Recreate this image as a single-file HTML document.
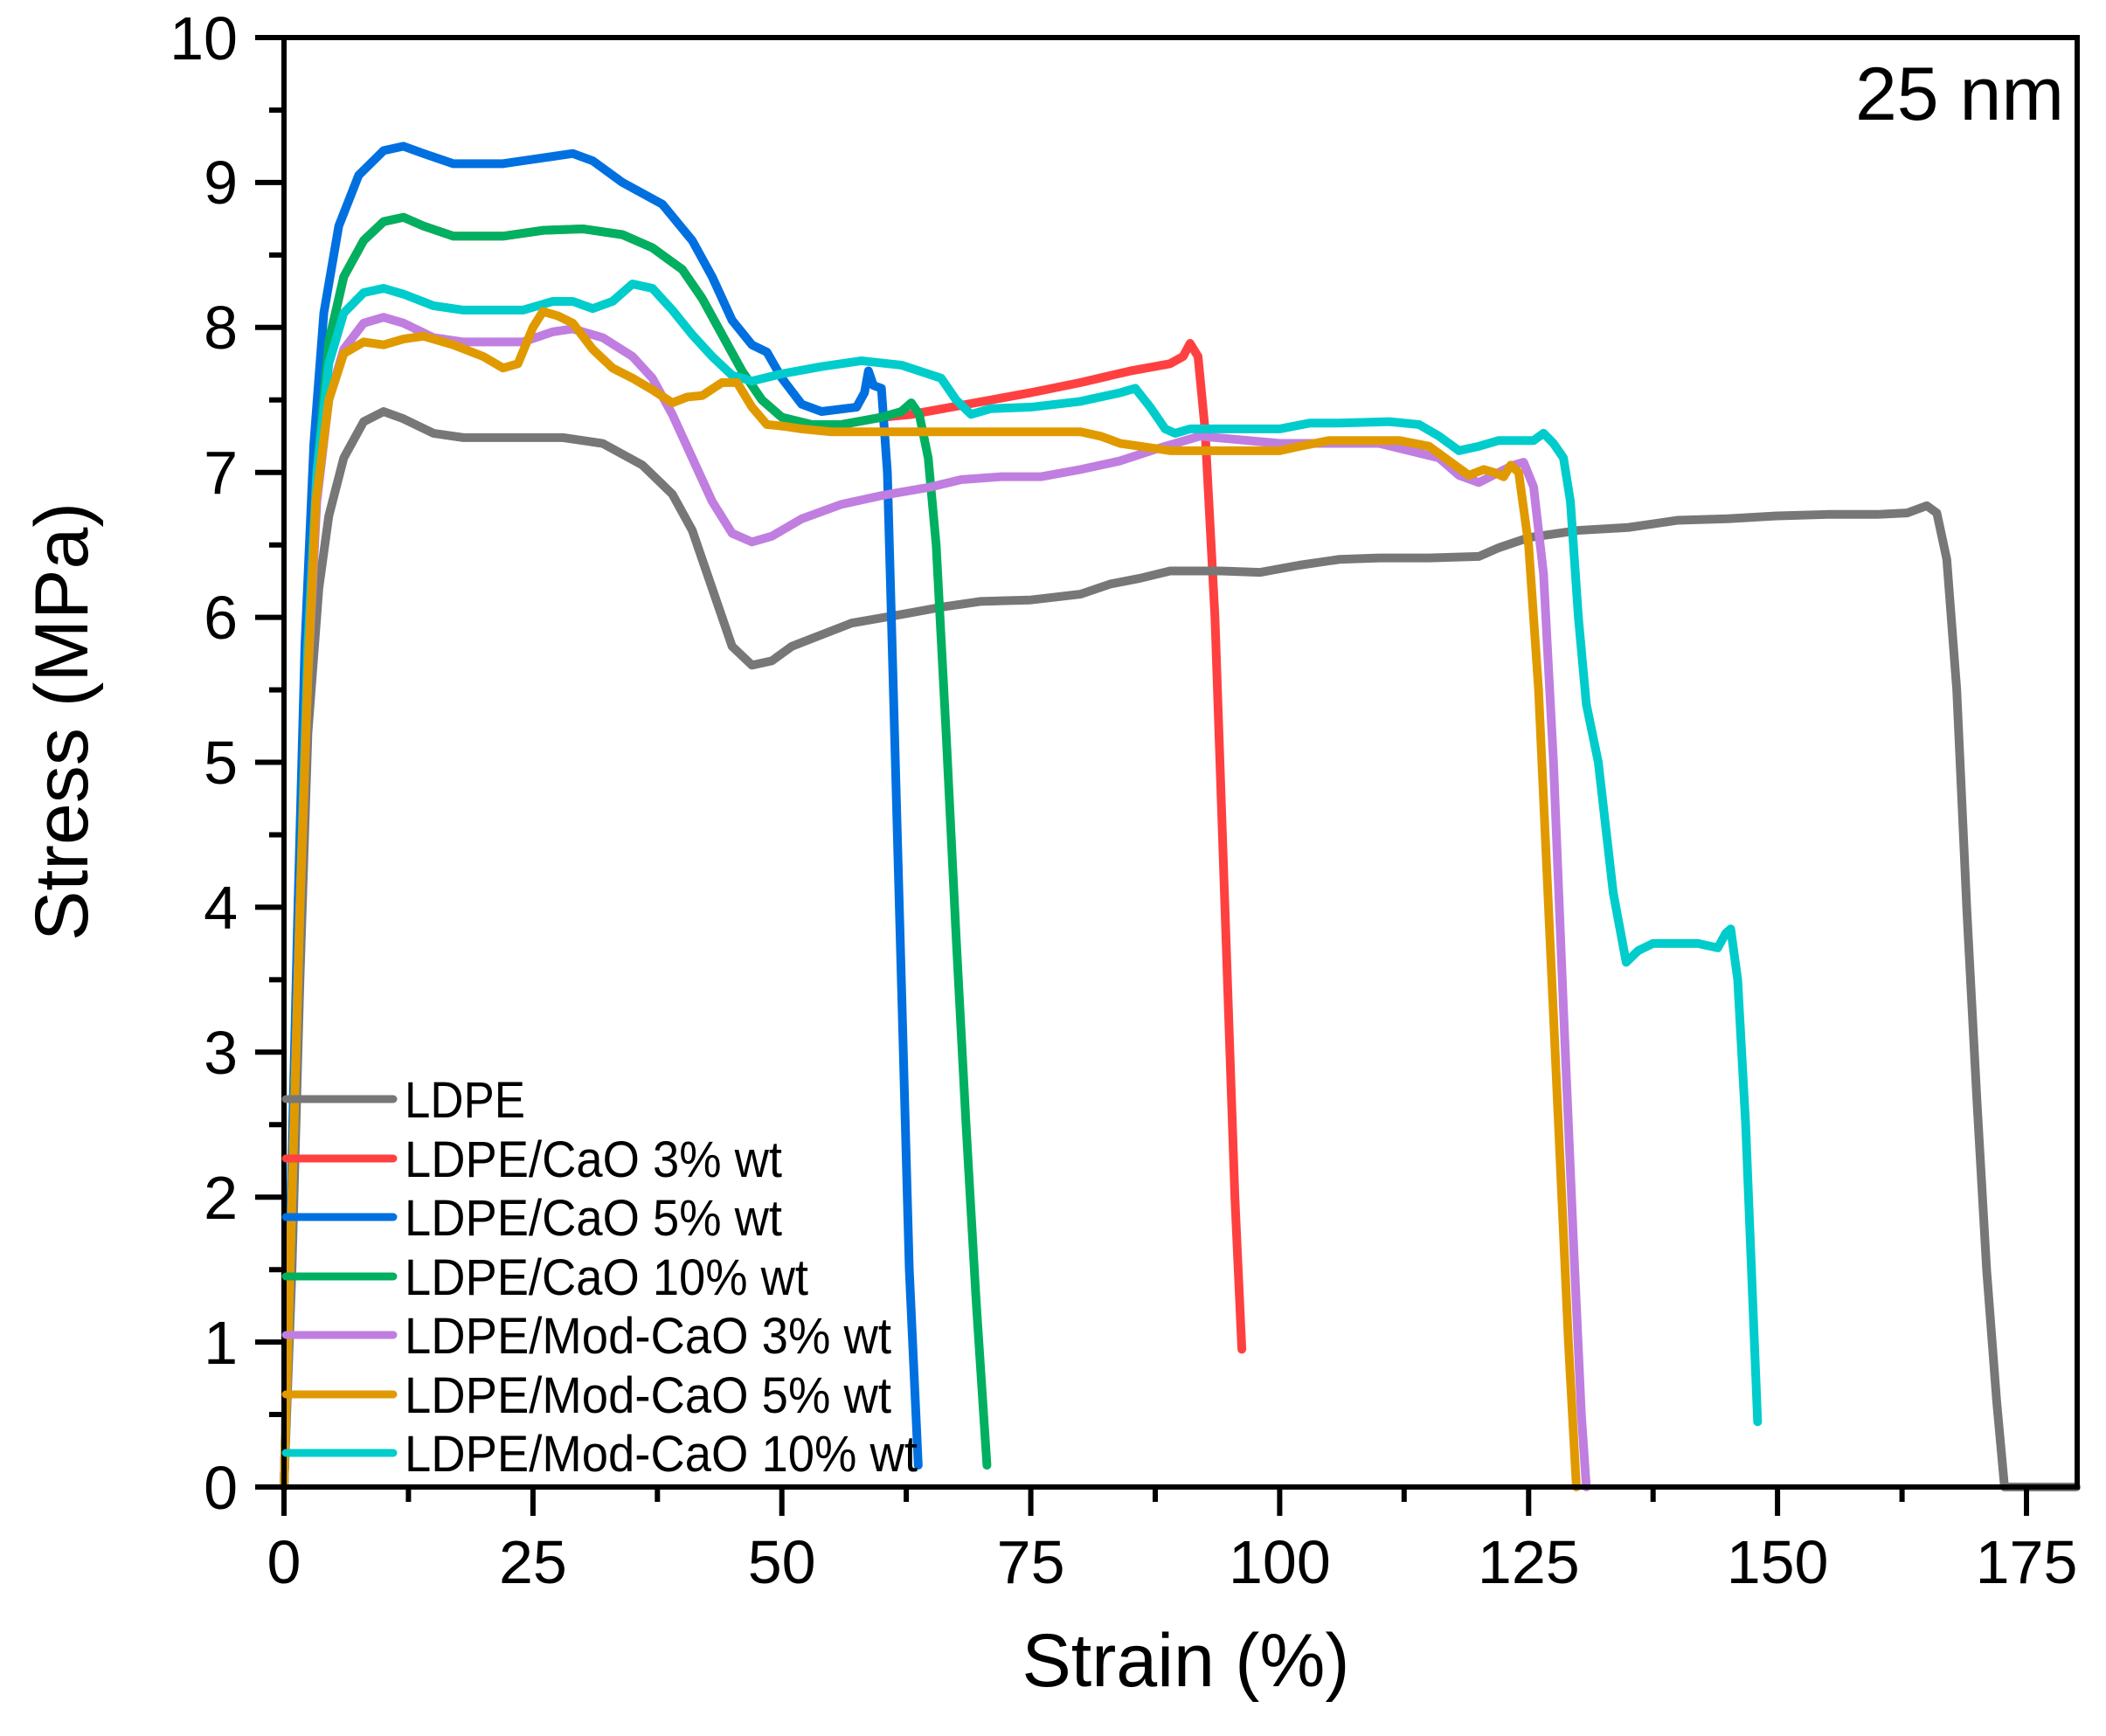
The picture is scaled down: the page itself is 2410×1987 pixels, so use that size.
<!DOCTYPE html>
<html><head><meta charset="utf-8"><style>html,body{margin:0;padding:0;background:#fff}svg{display:block}</style></head>
<body>
<svg width="2410" height="1987" viewBox="0 0 2410 1987" xmlns="http://www.w3.org/2000/svg" font-family="Liberation Sans, Arial, sans-serif">
<rect width="2410" height="1987" fill="#fff"/>
<g transform="translate(325,1702) scale(11.394,-165.9)" fill="none" stroke-width="10" stroke-linejoin="round" stroke-linecap="round">
<polyline vector-effect="non-scaling-stroke" stroke="#ff4040" points="0,0 0.8,2 1.6,4 2.4,5.8 3.3,7 4.5,7.9 6,8.35 8,8.6 10,8.73 12,8.76 14,8.7 17,8.63 22,8.63 26,8.67 30,8.68 34,8.64 37,8.55 40,8.4 42,8.2 44,7.95 46,7.7 48,7.5 50,7.38 53,7.33 56,7.33 60,7.38 63,7.4 67,7.45 75,7.55 80,7.62 85,7.7 89,7.75 90.3,7.8 91,7.89 91.8,7.8 92.5,7.3 93.5,6 94.5,4 95.5,2 96.2,0.95"/>
<polyline vector-effect="non-scaling-stroke" stroke="#777777" points="0,0 0.8,1.5 1.6,3.5 2.4,5.2 3.5,6.2 4.5,6.7 6,7.1 8,7.35 10,7.42 12,7.37 15,7.27 18,7.24 22,7.24 28,7.24 32,7.2 36,7.05 39,6.85 41,6.6 43,6.2 45,5.8 47,5.67 49,5.7 51,5.8 54,5.88 57,5.96 62,6.02 66,6.07 70,6.11 75,6.12 80,6.16 83,6.23 86,6.27 89,6.32 94,6.32 98,6.31 102,6.36 106,6.4 110,6.41 115,6.41 120,6.42 122,6.48 125,6.55 130,6.6 135,6.62 140,6.67 145,6.68 150,6.7 155,6.71 160,6.71 163,6.72 165,6.77 166,6.72 167,6.4 168,5.5 169,4 170,2.7 171,1.5 172,0.6 172.8,0 180,0"/>
<polyline vector-effect="non-scaling-stroke" stroke="#0070e0" points="0,0 0.7,2 1.4,4 2.1,5.8 3,7.2 4,8.1 5.5,8.7 7.5,9.05 10,9.22 12,9.25 14,9.2 17,9.13 22,9.13 26,9.17 29,9.2 31,9.15 34,9 38,8.85 41,8.6 43,8.35 45,8.05 47,7.88 48.5,7.83 50,7.65 52,7.47 54,7.42 57.5,7.45 58.3,7.55 58.7,7.7 59.2,7.6 60,7.58 60.6,7 61.2,5.5 62,3.5 62.8,1.5 63.7,0.15"/>
<polyline vector-effect="non-scaling-stroke" stroke="#00b060" points="0,0 0.8,2 1.6,4 2.4,5.8 3.3,7 4.5,7.9 6,8.35 8,8.6 10,8.73 12,8.76 14,8.7 17,8.63 22,8.63 26,8.67 30,8.68 34,8.64 37,8.55 40,8.4 42,8.2 44,7.95 46,7.7 48,7.5 50,7.38 53,7.33 56,7.33 60,7.38 62,7.42 63,7.48 63.8,7.4 64.7,7.1 65.5,6.5 66.5,5.2 67.5,3.8 68.5,2.5 69.5,1.3 70.6,0.15"/>
<polyline vector-effect="non-scaling-stroke" stroke="#c07ee0" points="0,0 0.8,2 1.6,4 2.4,5.6 3.3,6.8 4.5,7.5 6,7.85 8,8.03 10,8.07 12,8.03 15,7.93 18,7.9 24,7.9 27,7.97 29,7.99 32,7.93 35,7.8 37,7.65 39,7.4 41,7.1 43,6.8 45,6.58 47,6.52 49,6.56 52,6.68 56,6.78 60,6.84 65,6.9 68,6.95 72,6.97 76,6.97 80,7.02 84,7.08 88,7.17 92,7.25 100,7.2 110,7.2 116,7.1 118,6.98 120,6.93 122,7 123.5,7.05 124.5,7.07 125.5,6.9 126.5,6.3 127.5,5 128.5,3.3 129.5,1.7 130.3,0.5 130.8,0"/>
<polyline vector-effect="non-scaling-stroke" stroke="#00cccc" points="0,0 0.8,2 1.6,4 2.4,5.8 3.3,7 4.5,7.75 6,8.1 8,8.24 10,8.27 12,8.23 15,8.15 18,8.12 24,8.12 27,8.18 29,8.18 31,8.13 33,8.18 35,8.3 37,8.27 39,8.12 41,7.95 43,7.8 45,7.67 47,7.63 50,7.68 54,7.73 58,7.77 62,7.74 66,7.65 67.5,7.5 69,7.4 71,7.44 75,7.45 80,7.49 84,7.55 85.5,7.58 87,7.45 88.5,7.3 89.5,7.27 91,7.3 96,7.3 100,7.3 103,7.34 106,7.34 111,7.35 114,7.33 116,7.25 118,7.15 120,7.18 122,7.22 124.5,7.22 125.5,7.22 126.5,7.27 127.5,7.2 128.5,7.1 129.2,6.8 130,6 130.8,5.4 132,5 133.5,4.1 134.8,3.62 136,3.7 137.5,3.75 142,3.75 144,3.72 144.8,3.82 145.3,3.85 146,3.5 146.8,2.5 147.5,1.3 148,0.45"/>
<polyline vector-effect="non-scaling-stroke" stroke="#e09a00" points="0,0 0.8,2 1.6,4 2.4,5.6 3.2,6.8 4.5,7.5 6,7.82 8,7.9 10,7.88 12,7.92 14,7.94 17,7.88 20,7.8 22,7.72 23.5,7.75 25,8.0 26,8.11 27.5,8.08 29,8.03 31,7.85 33,7.72 35,7.65 37,7.57 39,7.48 40.5,7.52 42,7.53 44,7.62 45.5,7.62 47,7.45 48.5,7.33 50,7.32 52,7.3 55,7.28 60,7.28 70,7.28 80,7.28 82,7.25 84,7.2 86,7.18 89,7.15 95,7.15 100,7.15 102,7.18 105,7.22 112,7.22 115,7.18 117,7.08 119,6.98 120.5,7.02 121.5,7.0 122.5,6.97 123.2,7.05 124,7.0 125,6.5 126,5.5 127,4 128,2.5 129,1 129.8,0"/>
</g>
<g stroke="#000" stroke-width="6" fill="none">
<rect x="325" y="43" width="2052" height="1659"/>
<path d="M325,1702v33 M609.9,1702v33 M894.7,1702v33 M1179.6,1702v33 M1464.4,1702v33 M1749.3,1702v33 M2034.1,1702v33 M2319,1702v33 M467.4,1702v17 M752.3,1702v17 M1037.1,1702v17 M1322,1702v17 M1606.8,1702v17 M1891.7,1702v17 M2176.6,1702v17"/>
<path d="M325,1702h-33 M325,1536.1h-33 M325,1370.2h-33 M325,1204.3h-33 M325,1038.4h-33 M325,872.5h-33 M325,706.6h-33 M325,540.7h-33 M325,374.8h-33 M325,208.9h-33 M325,43h-33 M325,1619h-17 M325,1453.2h-17 M325,1287.3h-17 M325,1121.4h-17 M325,955.5h-17 M325,789.6h-17 M325,623.7h-17 M325,457.8h-17 M325,291.9h-17 M325,126h-17"/>
</g>
<g font-size="70" fill="#000" text-anchor="middle">
<text x="325" y="1812">0</text><text x="609.9" y="1812">25</text><text x="894.7" y="1812">50</text><text x="1179.6" y="1812">75</text><text x="1464.4" y="1812">100</text><text x="1749.3" y="1812">125</text><text x="2034.1" y="1812">150</text><text x="2319" y="1812">175</text>
</g>
<g font-size="70" fill="#000" text-anchor="end">
<text x="272" y="1727">0</text><text x="272" y="1561">1</text><text x="272" y="1395">2</text><text x="272" y="1229">3</text><text x="272" y="1063">4</text><text x="272" y="897">5</text><text x="272" y="731">6</text><text x="272" y="565">7</text><text x="272" y="399">8</text><text x="272" y="233">9</text><text x="272" y="68">10</text>
</g>
<text x="2362" y="137" font-size="86" text-anchor="end">25 nm</text>
<text x="1357" y="1930" font-size="86" text-anchor="middle" textLength="375" lengthAdjust="spacingAndGlyphs">Strain (%)</text>
<text transform="translate(100,826) rotate(-90)" font-size="86" text-anchor="middle" textLength="502" lengthAdjust="spacingAndGlyphs">Stress (MPa)</text>
<g stroke-width="9" stroke-linecap="round">
<line x1="327" y1="1258" x2="450" y2="1258" stroke="#777777"/>
<line x1="327" y1="1326" x2="450" y2="1326" stroke="#ff4040"/>
<line x1="327" y1="1393" x2="450" y2="1393" stroke="#0070e0"/>
<line x1="327" y1="1461" x2="450" y2="1461" stroke="#00b060"/>
<line x1="327" y1="1528" x2="450" y2="1528" stroke="#c07ee0"/>
<line x1="327" y1="1596" x2="450" y2="1596" stroke="#e09a00"/>
<line x1="327" y1="1663" x2="450" y2="1663" stroke="#00cccc"/>
</g>
<g font-size="58" fill="#000">
<text x="463" y="1279" textLength="138" lengthAdjust="spacingAndGlyphs">LDPE</text>
<text x="463" y="1347" textLength="432" lengthAdjust="spacingAndGlyphs">LDPE/CaO 3% wt</text>
<text x="463" y="1414" textLength="432" lengthAdjust="spacingAndGlyphs">LDPE/CaO 5% wt</text>
<text x="463" y="1482" textLength="462" lengthAdjust="spacingAndGlyphs">LDPE/CaO 10% wt</text>
<text x="463" y="1549" textLength="557" lengthAdjust="spacingAndGlyphs">LDPE/Mod-CaO 3% wt</text>
<text x="463" y="1617" textLength="557" lengthAdjust="spacingAndGlyphs">LDPE/Mod-CaO 5% wt</text>
<text x="463" y="1684" textLength="587" lengthAdjust="spacingAndGlyphs">LDPE/Mod-CaO 10% wt</text>
</g>
</svg>
</body></html>
